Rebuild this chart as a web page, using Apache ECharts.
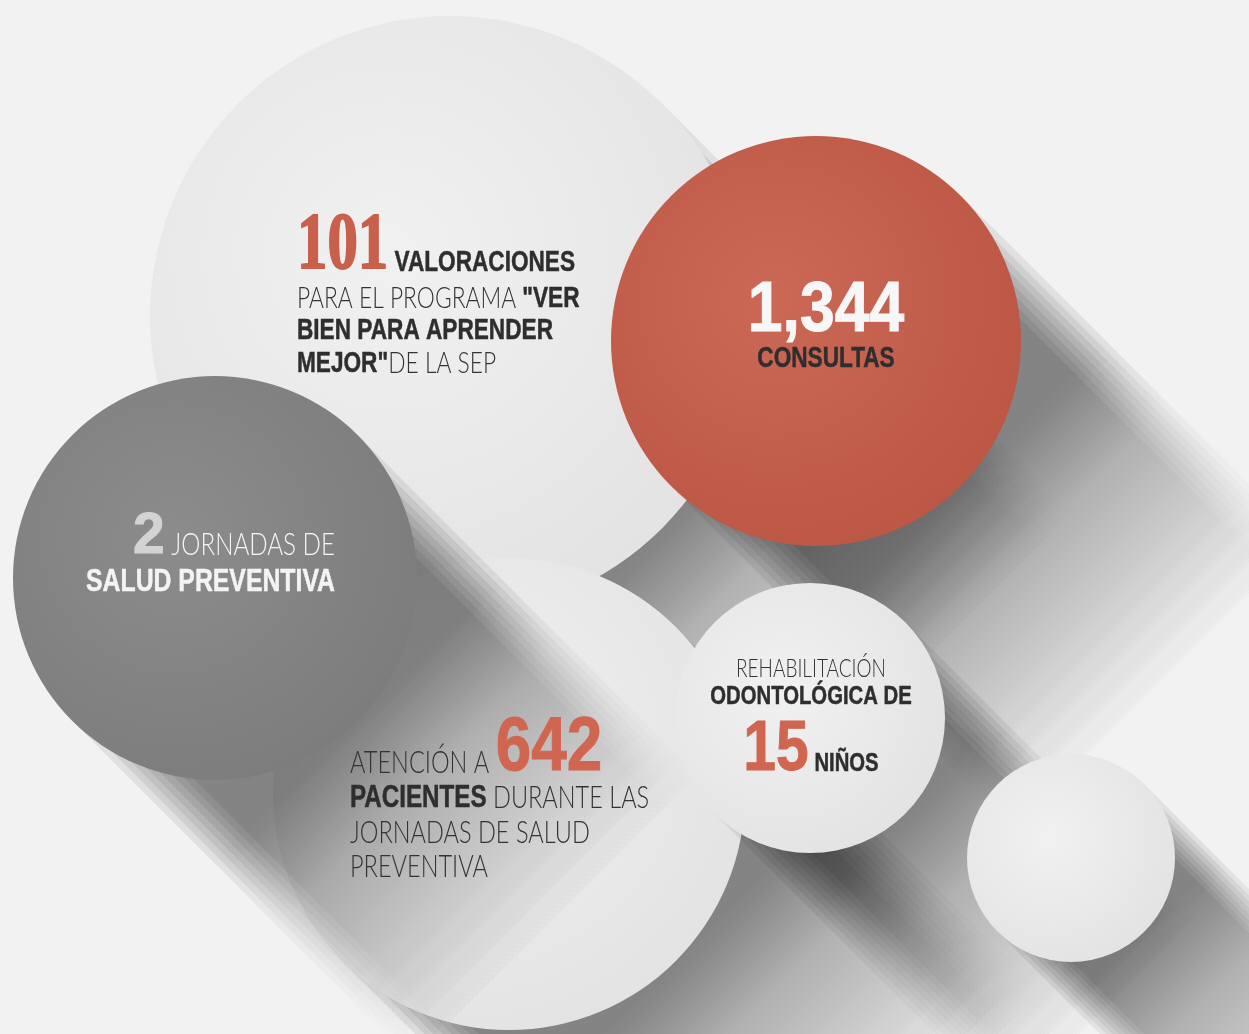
<!DOCTYPE html>
<html>
<head>
<meta charset="utf-8">
<title>Jornadas de salud</title>
<script src="https://cdn.jsdelivr.net/npm/echarts@6/dist/echarts.min.js"></script>
<style>
  html, body { margin: 0; padding: 0; background: #f2f2f2; }
  #chart { width: 1249px; height: 1034px; }
</style>
</head>
<body>
<div id="chart"></div>
<script>
// circles of the infographic, drawn back to front
const circleNames = ['valoraciones', 'consultas', 'pacientes', 'jornadas', 'odontologia', 'vacio'];
const circleX = [450, 816, 509, 215, 810, 1071];
const circleY = [316, 341, 794, 578, 718, 858];
const circleR = [300, 205, 236, 202, 135, 104];
const circleTone = ['light', 'red', 'light', 'dark', 'light', 'light'];

// figures shown in the circles
const statValues = [101, 1344, 642, 2, 15];

// text blocks: which circle they sit on and their lines as [style, text] pieces
const blockCircle = [0, 1, 3, 2, 4];
const blockLines = [
  [
    [['slab', String(statValues[0])], ['bold', ' VALORACIONES']],
    [['light', 'PARA EL PROGRAMA '], ['bold', '"VER']],
    [['bold', 'BIEN PARA APRENDER']],
    [['bold', 'MEJOR"'], ['light', 'DE LA SEP']]
  ],
  [
    [['numW', statValues[1].toLocaleString('en-US')]],
    [['bold', 'CONSULTAS']]
  ],
  [
    [['numG', String(statValues[3])], ['lightW', ' JORNADAS DE']],
    [['boldW', 'SALUD PREVENTIVA']]
  ],
  [
    [['light', 'ATENCIÓN A '], ['numR', String(statValues[2])]],
    [['bold', 'PACIENTES'], ['light', ' DURANTE LAS']],
    [['light', 'JORNADAS DE SALUD']],
    [['light', 'PREVENTIVA']]
  ],
  [
    [['light', 'REHABILITACIÓN']],
    [['bold', 'ODONTOLÓGICA DE']],
    [['numR', String(statValues[4])], ['bold', ' NIÑOS']]
  ]
];

const tones = {
  light: ['#f1f1f1', '#e2e2e2'],
  red: ['#cb6856', '#bb5544'],
  dark: ['#8c8c8c', '#7b7b7b']
};

const styles = {
  slab:   { family: '"Liberation Serif"', weight: 'bold', color: '#c9604b', sx: 0.76, stroke: 2 },
  bold:   { family: '"Liberation Sans"', weight: 'bold', color: '#2e2e2e', sx: 0.78, stroke: 0.5 },
  light:  { family: 'Lato, "Liberation Sans"', weight: 300, color: '#333333', sx: 0.76, stroke: 0 },
  numR:   { family: '"Liberation Sans"', weight: 'bold', color: '#d06650', sx: 0.84, stroke: 1 },
  numW:   { family: '"Liberation Sans"', weight: 'bold', color: '#f7f7f7', sx: 0.88, stroke: 1 },
  numG:   { family: '"Liberation Sans"', weight: 'bold', color: '#d3d3d3', sx: 1.0, stroke: 1 },
  lightW: { family: 'Lato, "Liberation Sans"', weight: 300, color: '#f4f4f4', sx: 0.78, stroke: 0 },
  boldW:  { family: '"Liberation Sans"', weight: 'bold', color: '#f4f4f4', sx: 0.8, stroke: 0.5 }
};

// offsets from circle centre: x anchor, baseline of each line, font sizes
const layout = [
  { dx: -153, base: [-44, -8, 24, 57], align: 'left', size: { slab: 80, bold: 29, light: 30 } },
  { dx: 10, base: [-8, 27], align: 'center', size: { numW: 71, bold: 29 } },
  { dx: 120, base: [-23, 14], align: 'right', size: { numG: 57, lightW: 31, boldW: 31 } },
  { dx: -159, base: [-21, 14, 49, 83], align: 'left', size: { light: 31, numR: 76, bold: 31 } },
  { dx: 1, base: [-41, -13, 54], align: 'center', size: { light: 25, bold: 26, numR: 70 } }
];

const ctx = document.createElement('canvas').getContext('2d');
function measure(text, weight, size, family) {
  ctx.font = weight + ' ' + size + 'px ' + family;
  return ctx.measureText(text).width;
}

function renderCircle(params, api) {
  const i = params.dataIndex;
  const c = api.coord([api.value(0), api.value(1)]);
  const r = api.size([api.value(2), 0])[0];
  const tone = tones[circleTone[i]];
  const s = Math.SQRT1_2;
  const len = r + 290;
  const d = len * s;
  const soft = Math.min(45, 0.3 * r);
  const a = 0.075;
  const children = [];
  // long 45 degree shadow, stacked thinner bands give a soft edge
  for (let k = 0; k < 8; k++) {
    const w = r - soft * k / 7;
    const px = w * s, py = -w * s;
    children.push({
      type: 'polygon',
      silent: true,
      shape: { points: [
        [c[0] + px, c[1] + py], [c[0] + px + d, c[1] + py + d],
        [c[0] - px + d, c[1] - py + d], [c[0] - px, c[1] - py]
      ] },
      style: {
        fill: new echarts.graphic.LinearGradient(c[0], c[1], c[0] + d, c[1] + d, [
          { offset: 0, color: 'rgba(0,0,0,' + a + ')' },
          { offset: r / len, color: 'rgba(0,0,0,' + a + ')' },
          { offset: (r + 90) / len, color: 'rgba(0,0,0,' + (a * 0.5) + ')' },
          { offset: 1, color: 'rgba(0,0,0,0)' }
        ], true)
      }
    });
  }
  children.push({
    type: 'circle',
    shape: { cx: c[0], cy: c[1], r: r },
    style: {
      fill: new echarts.graphic.RadialGradient(c[0] - 0.2 * r, c[1] - 0.2 * r, 1.4 * r, [
        { offset: 0, color: tone[0] },
        { offset: 1, color: tone[1] }
      ], true)
    }
  });
  return { type: 'group', children: children };
}

function renderText(params, api) {
  const b = params.dataIndex;
  const c = api.coord([api.value(0), api.value(1)]);
  const L = layout[b];
  const children = [];
  blockLines[b].forEach(function (line, li) {
    const pieces = line.map(function (p) {
      const f = styles[p[0]];
      const size = L.size[p[0]];
      return { f: f, size: size, text: p[1], w: measure(p[1], f.weight, size, f.family) * f.sx };
    });
    const total = pieces.reduce(function (acc, p) { return acc + p.w; }, 0);
    let x = c[0] + L.dx - (L.align === 'center' ? total / 2 : L.align === 'right' ? total : 0);
    const base = c[1] + L.base[li];
    pieces.forEach(function (p) {
      children.push({
        type: 'text',
        x: x,
        y: base - 0.31 * p.size,
        scaleX: p.f.sx,
        style: {
          text: p.text, x: 0, y: 0,
          fontSize: p.size, fontFamily: p.f.family, fontWeight: p.f.weight,
          fill: p.f.color, align: 'left', verticalAlign: 'middle',
          stroke: p.f.stroke ? p.f.color : null, lineWidth: p.f.stroke
        }
      });
      x += p.w;
    });
  });
  return { type: 'group', children: children };
}

const chart = echarts.init(document.getElementById('chart'));
chart.setOption({
  animation: false,
  backgroundColor: '#f2f2f2',
  grid: { left: 0, right: 0, top: 0, bottom: 0 },
  xAxis: { type: 'value', min: 0, max: 1249, show: false },
  yAxis: { type: 'value', min: 0, max: 1034, inverse: true, show: false },
  series: [
    {
      type: 'custom',
      name: 'circulos',
      renderItem: renderCircle,
      data: circleX.map(function (x, i) { return [x, circleY[i], circleR[i], circleNames[i]]; })
    },
    {
      type: 'custom',
      name: 'textos',
      z: 10,
      renderItem: renderText,
      data: blockCircle.map(function (ci) { return [circleX[ci], circleY[ci]]; })
    }
  ]
});
</script>
</body>
</html>
